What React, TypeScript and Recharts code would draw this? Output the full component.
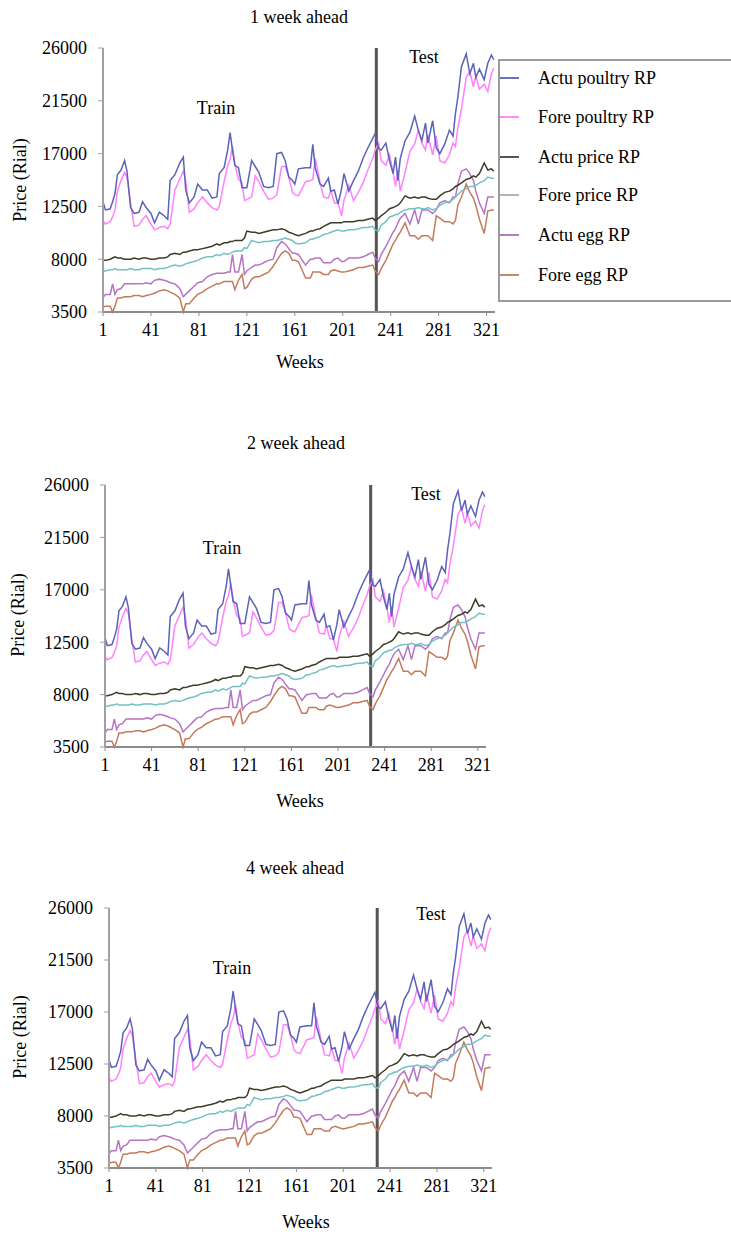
import React from 'react';
import { LineChart, Line, XAxis, YAxis, ReferenceLine } from 'recharts';

const weeks = [
  1, 3, 7, 9, 11, 13, 16, 19, 21, 24,
  27, 31, 34, 37, 41, 44, 48, 52, 55, 57,
  61, 65, 68, 70, 73, 77, 80, 84, 88, 92,
  96, 98, 102, 105, 107, 109, 111, 114, 117, 119,
  121, 125, 128, 131, 135, 139, 143, 146, 150, 153,
  156, 159, 161, 164, 170, 174, 176, 178, 182, 185,
  189, 191, 194, 197, 200, 202, 206, 210, 214, 218,
  222, 226, 228, 231, 233, 237, 240, 243, 245, 247,
  249, 253, 257, 261, 264, 267, 270, 272, 276, 279,
  282, 286, 290, 293, 295, 297, 300, 304, 307, 310,
  312, 315, 319, 322, 325, 327,
];

const actuPoultry = [
  12900, 12200, 12300, 12900, 13600, 15200, 15600, 16400, 15500, 12400,
  11900, 12000, 12900, 12400, 11900, 11100, 12000, 11700, 11400, 14700,
  15200, 16200, 16700, 13900, 12800, 13300, 14400, 13900, 13900, 13200,
  13300, 15300, 15800, 17300, 18800, 17300, 16000, 15800, 14100, 14100,
  14100, 16400, 15900, 15400, 14200, 14100, 14200, 17000, 17100, 16400,
  15000, 14700, 14400, 15700, 15800, 15800, 17800, 15800, 14400, 14200,
  14900, 13800, 13900, 12700, 14000, 15300, 13800, 14700, 15500, 16600,
  17500, 18300, 18700, 17400, 17300, 17900, 16400, 15300, 16700, 14700,
  16600, 18100, 18800, 20200, 19000, 18100, 19600, 17900, 19800, 17500,
  17000, 17800, 19000, 18500, 20400, 21800, 24400, 25500, 23800, 24700,
  23500, 24200, 23300, 24700, 25400, 25000,
];

const forePoultry = [
  11300, 11000, 11200, 11600, 12200, 13800, 14700, 15400, 15000, 12800,
  10800, 10900, 11400, 11700, 11000, 10500, 10700, 10800, 10600, 11000,
  13900, 14800, 15500, 14700, 12000, 12300, 12800, 13300, 12800, 12400,
  12200, 12500, 14600, 16000, 16500, 17600, 16100, 14800, 14500, 13000,
  13100, 13300, 15100, 14600, 13800, 13100, 13200, 13500, 15900, 15900,
  15000, 13700, 13500, 13400, 14600, 14700, 14800, 16600, 14600, 13300,
  13200, 13900, 12800, 12800, 11700, 13000, 14300, 13000, 13700, 14500,
  15600, 16600, 17300, 17900, 16400, 16000, 16900, 15400, 14200, 15600,
  13800, 15400, 17200, 17800, 19000, 17900, 17300, 18600, 16900, 18500,
  16400, 16200, 16900, 17900, 17600, 19200, 20800, 23500, 24000, 22700,
  23600, 22500, 22900, 22300, 23800, 24300,
];

const actuPrice = [
  7900, 7900, 8000, 8100, 8200, 8100, 8100, 8000, 8000, 8000,
  8100, 8000, 8100, 8100, 8000, 8000, 8100, 8100, 8200, 8400,
  8500, 8400, 8600, 8600, 8700, 8800, 8800, 8900, 9000, 9100,
  9300, 9200, 9400, 9400, 9500, 9500, 9600, 9600, 9600, 9800,
  10400, 10300, 10300, 10200, 10300, 10400, 10500, 10500, 10600, 10500,
  10300, 10200, 10100, 10000, 10200, 10400, 10400, 10500, 10600, 10800,
  11000, 11100, 11100, 11100, 11100, 11200, 11200, 11200, 11300, 11300,
  11400, 11500, 11300, 11500, 11700, 12000, 12300, 12400, 12500, 12600,
  12800, 13400, 13200, 13300, 13200, 13300, 13300, 13200, 13100, 13100,
  13400, 13700, 13800, 14000, 14200, 14300, 14500, 14800, 14900, 15100,
  15000, 15300, 16200, 15600, 15700, 15500,
];

const forePrice = [
  7000, 7000, 7100, 7100, 7200, 7100, 7100, 7100, 7100, 7200,
  7100, 7100, 7200, 7200, 7200, 7100, 7200, 7200, 7300, 7400,
  7500, 7400, 7500, 7600, 7700, 7800, 7900, 8100, 8200, 8200,
  8400, 8300, 8500, 8400, 8500, 8600, 8700, 8700, 8700, 9000,
  8900, 9600, 9500, 9400, 9500, 9500, 9600, 9600, 9700, 9800,
  9700, 9600, 9400, 9300, 9400, 9700, 9700, 9800, 9900, 10100,
  10200, 10300, 10400, 10500, 10400, 10400, 10500, 10500, 10600, 10700,
  10700, 10800, 10500, 10400, 10900, 11200, 11600, 11700, 11800, 11800,
  12000, 12200, 12300, 12300, 12400, 12300, 12300, 12400, 12200, 12300,
  12600, 12800, 12900, 13100, 13300, 13500, 13800, 14000, 14200, 14200,
  14300, 14500, 14700, 15000, 14900, 14900,
];

const actuEgg = [
  4700, 5000, 5000, 5900, 5000, 5400, 5500, 5900, 5900, 5900,
  5900, 5900, 5900, 6000, 5900, 6200, 6300, 6200, 6100, 6000,
  5900, 5500, 4800, 5000, 5300, 5700, 6000, 6100, 6500, 6700,
  6800, 6800, 6800, 6900, 6900, 8400, 6900, 6900, 8400, 6700,
  7000, 7300, 7500, 7500, 7700, 7900, 8000, 9000, 9500, 9300,
  8900, 8500, 8500, 8400, 7500, 8000, 8000, 8100, 8100, 7700,
  7700, 7700, 8000, 8100, 7800, 7800, 8100, 8100, 8100, 8200,
  8400, 8600, 8100, 7800, 8400, 9100, 9700, 10300, 10600, 11100,
  11500, 11900, 11000, 12200, 11000, 12200, 12200, 12200, 11900, 12200,
  12800, 13000, 12800, 13300, 13300, 14400, 15500, 15700, 15300, 14700,
  13800, 12800, 11900, 13300, 13300, 13300,
];

const foreEgg = [
  3900, 4000, 4000, 3500, 4000, 4700, 4700, 4800, 4800, 4800,
  4900, 4900, 4800, 4900, 5000, 5100, 5300, 5400, 5300, 5200,
  5000, 4700, 3500, 4200, 4200, 4700, 5000, 5200, 5500, 5700,
  5900, 5900, 6100, 6100, 6100, 6100, 5400, 6200, 6700, 5500,
  5600, 6300, 6500, 6500, 6700, 6900, 7400, 7900, 8500, 8700,
  8500, 7900, 7900, 7800, 6400, 6400, 6900, 6900, 6900, 6700,
  6700, 7000, 7100, 7000, 6900, 6900, 7000, 7100, 7300, 7300,
  7400, 7500, 7000, 6700, 7200, 7900, 8600, 9300, 9600, 10000,
  10300, 11100, 10000, 10000, 9700, 10000, 10000, 10000, 9600, 11700,
  11500, 11200, 11200, 11000, 11300, 12600, 13300, 14400, 13700, 13200,
  12600, 11400, 10200, 12100, 12200, 12200,
];

const xTicks = [1, 41, 81, 121, 161, 201, 241, 281, 321];
const yTicks = [3500, 8000, 12500, 17000, 21500, 26000];

const seriesNames = ['Actu poultry RP', 'Fore poultry RP', 'Actu price RP', 'Fore price RP', 'Actu egg RP', 'Fore egg RP'];
const panelTitles = ['1 week ahead', '2 week ahead', '4 week ahead'];

const data = weeks.map((w, i) => ({
  w,
  ap: actuPoultry[i],
  fp: forePoultry[i],
  pr: actuPrice[i],
  fpr: forePrice[i],
  eg: actuEgg[i],
  feg: foreEgg[i],
}));

const FONT = '"Liberation Serif", "Times New Roman", serif';

const lineDefs = [
  { key: 'feg', color: '#c47a5c' },
  { key: 'eg', color: '#b574c4' },
  { key: 'fpr', color: '#72c2c4' },
  { key: 'pr', color: '#3c3c28' },
  { key: 'fp', color: '#ff82ff' },
  { key: 'ap', color: '#5b62b8' },
];

const legendColors = ['#6a74c4', '#ff8cff', '#555555', '#b4b4b4', '#b47cc0', '#c8866a'];

function Txt({ x, y, children, rotate }: { x: number; y: number; children: React.ReactNode; rotate?: boolean }) {
  return (
    <div
      style={{
        position: 'absolute',
        left: x,
        top: y,
        transform: rotate ? 'translate(-50%, -50%) rotate(-90deg)' : 'translate(-50%, -50%)',
        whiteSpace: 'nowrap',
        fontFamily: FONT,
        fontSize: 18,
        lineHeight: 1,
        color: '#000',
      }}
    >
      {children}
    </div>
  );
}

type PanelProps = {
  top: number;
  height: number;
  plotTop: number;
  plotBottom: number;
  plotLeft: number;
  plotRight: number;
  divider: number;
};

function Panel({ top, height, plotTop, plotBottom, plotLeft, plotRight, divider }: PanelProps) {
  const margin = {
    top: plotTop - top,
    left: plotLeft - 60,
    right: 731 - plotRight,
    bottom: top + height - plotBottom - 30,
  };
  return (
    <div style={{ position: 'absolute', left: 0, top, width: 731, height }}>
      <LineChart width={731} height={height} data={data} margin={margin}>
        <XAxis
          dataKey="w"
          type="number"
          domain={[1, 328]}
          ticks={xTicks}
          interval={0}
          height={30}
          axisLine={{ stroke: '#8c8c8c', strokeWidth: 2 }}
          tickLine={{ stroke: '#8c8c8c' }}
          tickSize={4}
          tickMargin={7}
          tick={{ fill: '#000', fontSize: 18, fontFamily: FONT }}
        />
        <YAxis
          type="number"
          domain={[3500, 26000]}
          ticks={yTicks}
          interval={0}
          width={60}
          axisLine={{ stroke: '#a0a0a0', strokeWidth: 2 }}
          tickLine={{ stroke: '#a0a0a0' }}
          tickSize={5}
          tickMargin={11}
          tick={{ fill: '#000', fontSize: 18, fontFamily: FONT }}
        />
        <ReferenceLine x={divider} stroke="#555555" strokeWidth={3} />
        {lineDefs.map((l) => (
          <Line
            key={l.key}
            dataKey={l.key}
            stroke={l.color}
            strokeWidth={1.5}
            dot={false}
            type="linear"
            isAnimationActive={false}
          />
        ))}
      </LineChart>
    </div>
  );
}

function LegendBox() {
  const ys = [78, 117, 157, 195, 235, 275];
  return (
    <div
      style={{
        position: 'absolute',
        left: 498,
        top: 59,
        width: 233,
        height: 239,
        borderTop: '2px solid #9a9a9a',
        borderLeft: '2px solid #9a9a9a',
        borderBottom: '2px solid #9a9a9a',
        background: '#fff',
      }}
    >
      {seriesNames.map((name, i) => (
        <React.Fragment key={name}>
          <div
            style={{
              position: 'absolute',
              left: 0,
              top: ys[i] - 61 - 1,
              width: 19,
              height: 2,
              background: legendColors[i],
            }}
          />
          <div
            style={{
              position: 'absolute',
              left: 38,
              top: ys[i] - 61,
              transform: 'translateY(-50%)',
              fontFamily: FONT,
              fontSize: 18,
              lineHeight: 1,
              whiteSpace: 'nowrap',
              color: '#000',
            }}
          >
            {name}
          </div>
        </React.Fragment>
      ))}
    </div>
  );
}

export default function App() {
  return (
    <div style={{ position: 'absolute', left: 0, top: 0, width: 731, height: 1234, background: '#fff', overflow: 'hidden' }}>
      <Panel top={0} height={380} plotTop={48} plotBottom={312} plotLeft={103} plotRight={495} divider={229} />
      <Panel top={420} height={400} plotTop={485} plotBottom={747} plotLeft={105} plotRight={486} divider={229} />
      <Panel top={840} height={394} plotTop={908} plotBottom={1168} plotLeft={109} plotRight={492} divider={230} />

      <LegendBox />

      <Txt x={299} y={17}>{panelTitles[0]}</Txt>
      <Txt x={20} y={180} rotate>Price (Rial)</Txt>
      <Txt x={300} y={362}>Weeks</Txt>
      <Txt x={216} y={108}>Train</Txt>
      <Txt x={424} y={57}>Test</Txt>

      <Txt x={296} y={443}>{panelTitles[1]}</Txt>
      <Txt x={18} y={615} rotate>Price (Rial)</Txt>
      <Txt x={300} y={801}>Weeks</Txt>
      <Txt x={222} y={548}>Train</Txt>
      <Txt x={426} y={494}>Test</Txt>

      <Txt x={295} y={868}>{panelTitles[2]}</Txt>
      <Txt x={20} y={1037} rotate>Price (Rial)</Txt>
      <Txt x={306} y={1222}>Weeks</Txt>
      <Txt x={232} y={968}>Train</Txt>
      <Txt x={431} y={914}>Test</Txt>
    </div>
  );
}
